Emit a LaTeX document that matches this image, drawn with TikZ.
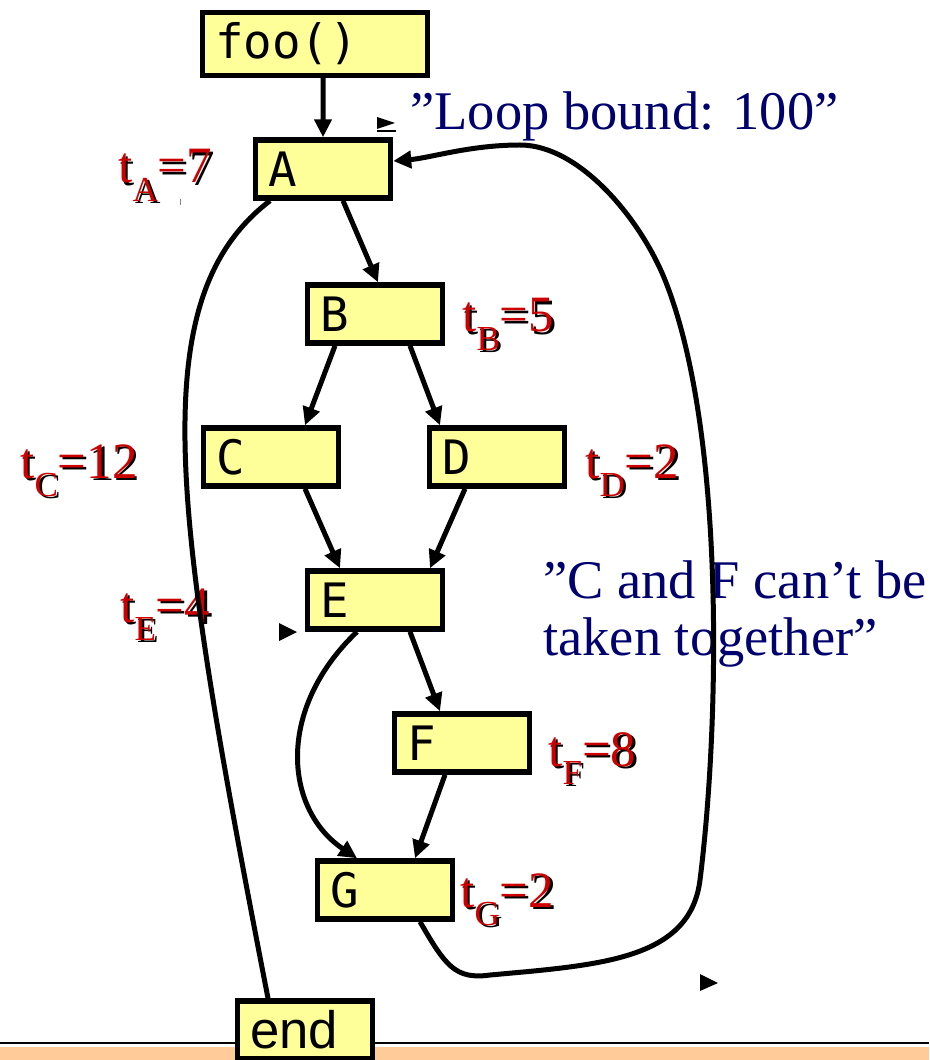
\documentclass[tikz,border=0pt]{standalone}
\usepackage{fontspec}
\setmainfont{Liberation Serif}
\newfontfamily\boxfont{DejaVu Sans Mono}
\newfontfamily\endfont{Liberation Sans}
\usetikzlibrary{arrows.meta}

\definecolor{boxyellow}{RGB}{255,255,153}
\definecolor{costred}{RGB}{204,0,0}
\definecolor{notenavy}{RGB}{0,0,110}
\definecolor{bandorange}{RGB}{255,204,153}

% red text with a black drop shadow
\newcommand{\shadowtext}[1]{\makebox[0pt][l]{\hspace{0.05cm}\raisebox{-0.05cm}{\color{black}#1}}#1}
\newcommand{\tcost}[2]{\shadowtext{t\raisebox{-0.36em}{\fontsize{20}{20}\selectfont #1}=#2}}

\tikzstyle{block} = [draw, rectangle, line width=0.11cm, fill=boxyellow, minimum width=2.7cm, minimum height=1.16cm, text width=2.2cm, inner xsep=0.25cm, align=left, font=\boxfont\fontsize{27}{32}\selectfont]
\tikzstyle{arrow} = [line width=0.1cm, -{Triangle[length=0.36cm, width=0.34cm]}]
\tikzstyle{line} = [line width=0.1cm]
\tikzstyle{cost} = [text=costred, anchor=base west, inner sep=0, font=\fontsize{29}{34}\selectfont]
\tikzstyle{note} = [text=notenavy, anchor=base west, inner sep=0, align=left, font=\fontsize{31}{32.4}\selectfont]

\begin{document}
\begin{tikzpicture}[x=0.02cm, y=-0.02cm]
            \useasboundingbox (0,0) rectangle (929,1060);
            % Footer band
            \fill [bandorange] (0,1047) rectangle (929,1060);
            \draw [line width=0.04cm] (0,1043) -- (929,1043);

            % Costs
            \node (costA) [cost] at (118,183) {\tcost{A}{7}};
            \node (costB) [cost] at (462,332) {\tcost{B}{5}};
            \node (costC) [cost] at (20,478) {\tcost{C}{12}};
            \node (costD) [cost] at (585,478) {\tcost{D}{2}};
            \node (costE) [cost] at (120,622) {\tcost{E}{4}};
            \node (costF) [cost] at (548,766) {\tcost{F}{8}};
            \node (costG) [cost] at (460,907) {\tcost{G}{2}};

            % Annotations
            \node (bound) [note] at (410,130) {”Loop bound: 100”};
            \node (together) [note] at (543,655) {”C and F can’t be\\taken together”};

            % Basic blocks
            \node (foo) [block, minimum width=4.5cm, text width=4.0cm, minimum height=1.26cm] at (315,44) {foo()};
            \node (A) [block] at (323,169) {A};
            \node (B) [block] at (375,314) {B};
            \node (C) [block] at (271,457) {C};
            \node (D) [block] at (497,457) {D};
            \node (E) [block] at (375,600) {E};
            \node (F) [block] at (462,743) {F};
            \node (G) [block] at (385,890) {G};
            \node (end) [block, font=\endfont\fontsize{30}{34}\selectfont] at (305,1030) {end};

            % Edges
            \draw [arrow] ([xshift=0.16cm]foo.south) -- (A.north);
            \draw [arrow] ([xshift=0.4cm]A.south) -- ([xshift=0.06cm]B.north);
            \draw [arrow] ([xshift=-0.8cm]B.south) -- ([xshift=0.68cm]C.north);
            \draw [arrow] ([xshift=0.7cm]B.south) -- ([xshift=-1.14cm]D.north);
            \draw [arrow] ([xshift=0.68cm]C.south) -- ([xshift=-0.7cm]E.north);
            \draw [arrow] ([xshift=-0.64cm]D.south) -- ([xshift=1.1cm]E.north);
            \draw [arrow] ([xshift=0.7cm]E.south) -- ([xshift=-0.44cm]F.north);
            \draw [arrow] ([xshift=-0.34cm]F.south) -- ([xshift=0.6cm]G.north);
            \draw [arrow] ([xshift=-0.36cm]E.south) .. controls (275,710) and (285,810) .. ([xshift=-0.56cm]G.north);
            \draw [line] ([xshift=-1.06cm]A.south) .. controls (140,300) and (175,520) .. ([xshift=-0.74cm]end.north);
            % loop back edge
            \draw [arrow] ([xshift=0.7cm]G.south) .. controls (445,965) and (455,980) .. (490,975)
                  .. controls (600,965) and (690,960) .. (700,880)
                  .. controls (720,720) and (725,430) .. (665,280)
                  .. controls (641,220) and (580,145) .. (520,145)
                  .. controls (470,145) and (430,158) .. ([yshift=0.16cm]A.east);

            % loose arrow heads
            \fill (377,117) -- (395,123) -- (377,129) -- cycle;
            \draw [line width=0.04cm] (377,131) -- (396,131);
            \fill (279,623) -- (297,632) -- (279,641) -- cycle;
            \fill (700,974) -- (718,983) -- (700,991) -- cycle;
            \draw [gray, line width=0.02cm] (180,199) -- (180,205);
        \end{tikzpicture}
\end{document}
